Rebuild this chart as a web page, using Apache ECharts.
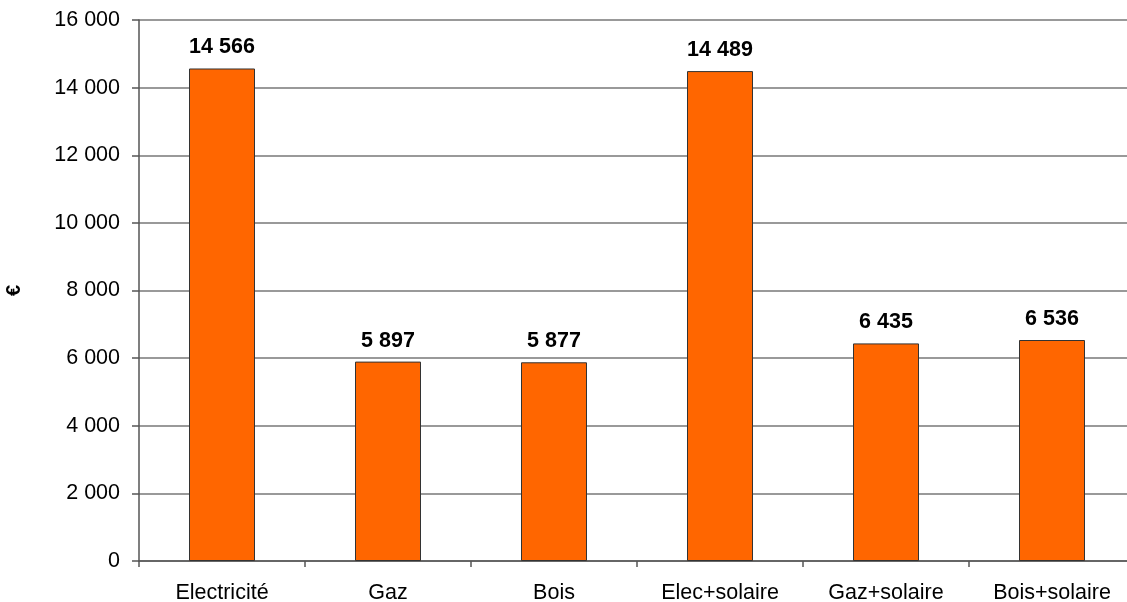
<!DOCTYPE html>
<html>
<head>
<meta charset="utf-8">
<script src="https://cdn.jsdelivr.net/npm/echarts@6/dist/echarts.min.js"></script>
<style>
  html, body { margin: 0; padding: 0; background: #fff; }
  #main { width: 1127px; height: 602px; }
</style>
</head>
<body>
<div id="main"></div>
<script>
// catégories et valeurs (€)
var categories = ['Electricité', 'Gaz', 'Bois', 'Elec+solaire', 'Gaz+solaire', 'Bois+solaire']
var values = [14566, 5897, 5877, 14489, 6435, 6536]
var yName = '€'

function fmt(v) {
    return String(v).replace(/\B(?=(\d{3})+(?!\d))/g, ' ')
}

var myChart = echarts.init(document.getElementById('main'))
var option = {
    animation: false,
    textStyle: { fontFamily: 'Liberation Sans, Arial, sans-serif' },
    grid: { left: 139, right: -8, top: 20, bottom: 41, containLabel: false, outerBoundsMode: 'none' },
    xAxis: {
        type: 'category',
        data: categories,
        boundaryGap: true,
        axisLine: { lineStyle: { color: '#555', width: 1.5 } },
        axisTick: { show: true, length: 6, lineStyle: { color: '#555', width: 1.5 } },
        axisLabel: { color: '#000', fontSize: 21.5, margin: 21 }
    },
    yAxis: {
        type: 'value',
        min: 0,
        max: 16000,
        interval: 2000,
        name: yName,
        nameLocation: 'middle',
        nameGap: 115,
        nameRotate: 90,
        nameTextStyle: { color: '#000', fontSize: 20, fontWeight: 'bold' },
        axisLine: { show: true, lineStyle: { color: '#555', width: 1.5 } },
        axisTick: { show: true, length: 7, lineStyle: { color: '#555', width: 1.5 } },
        axisLabel: { color: '#000', fontSize: 21.5, margin: 19, formatter: fmt },
        splitLine: { lineStyle: { color: '#777', width: 1.5 } }
    },
    series: [{
        type: 'bar',
        data: values,
        barWidth: 66,
        itemStyle: { color: '#FF6600', borderColor: '#333', borderWidth: 1 },
        label: {
            show: true,
            position: 'top',
            distance: 10,
            color: '#000',
            fontSize: 21.5,
            fontWeight: 'bold',
            formatter: function (p) { return fmt(p.value) }
        }
    }]
}
myChart.setOption(option)
</script>
</body>
</html>
